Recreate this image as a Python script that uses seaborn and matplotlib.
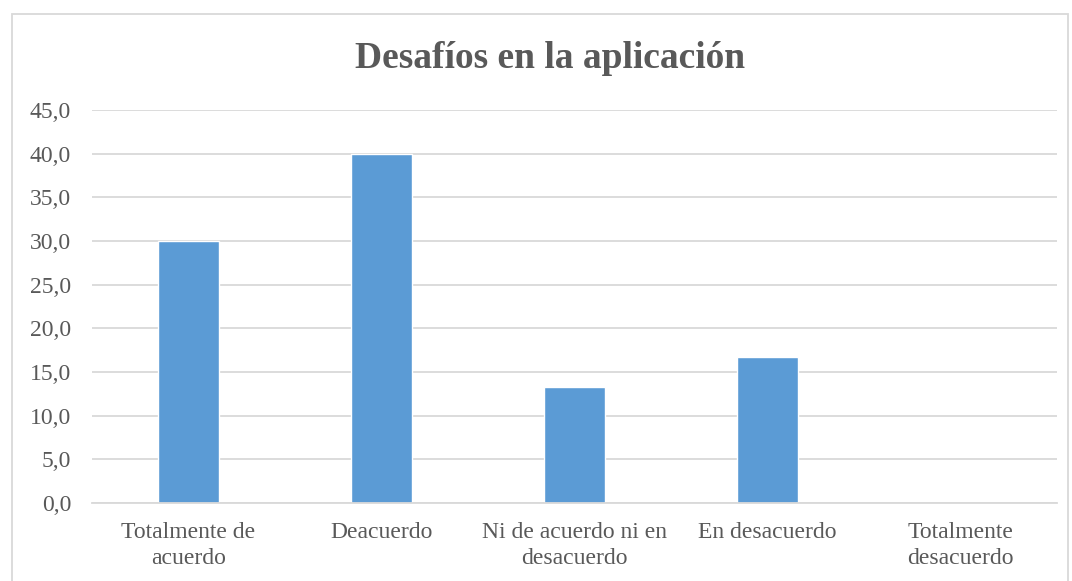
import matplotlib
matplotlib.use("Agg")
import matplotlib.pyplot as plt
import seaborn as sns
import pandas as pd
from matplotlib.patches import Rectangle

categories = ["Totalmente de\nacuerdo", "Deacuerdo", "Ni de acuerdo ni en\ndesacuerdo", "En desacuerdo", "Totalmente\ndesacuerdo"]
values = [30.0, 40.0, 13.3, 16.7, 0.0]
yticks = [0, 5, 10, 15, 20, 25, 30, 35, 40, 45]
title = "Desafíos en la aplicación"

sns.set_theme(style="white")
plt.rcParams['font.family'] = ['Liberation Serif', 'DejaVu Serif']

df = pd.DataFrame({"cat": categories, "val": values})
fig = plt.figure(figsize=(10.72, 5.81), dpi=100)
ax = fig.add_axes([0.0858, 0.1343, 0.9002, 0.6764])
sns.barplot(data=df, x="cat", y="val", color="#5B9BD5", saturation=1, width=0.316, ax=ax)
ax.set_ylim(0, 45)
ax.set_yticks(yticks)
ax.set_yticklabels([f"{t:.1f}".replace(".", ",") for t in yticks])
ax.yaxis.grid(True, color="#D9D9D9", linewidth=1.3)
ax.set_axisbelow(True)
for s in ["top", "right", "left"]:
    ax.spines[s].set_visible(False)
ax.spines["bottom"].set_color("#D9D9D9")
ax.spines["bottom"].set_linewidth(1.3)
ax.tick_params(axis="both", length=0, labelsize=17, labelcolor="#595959")
ax.tick_params(axis="y", pad=15)
ax.tick_params(axis="x", pad=14)
for lbl in ax.get_xticklabels():
    lbl.set_linespacing(1.3)
ax.set_xlabel("")
ax.set_ylabel("")
fig.text(0.513, 1 - 58/581, title, ha="center", va="center", fontsize=27, fontweight="bold", color="#595959")
fig.patches.append(Rectangle((12/1072, -0.01), 1056/1072, 1 - 14/581 + 0.01, transform=fig.transFigure,
                             fill=False, edgecolor="#D9D9D9", linewidth=1.3))
fig.savefig("out.png", dpi=100)
